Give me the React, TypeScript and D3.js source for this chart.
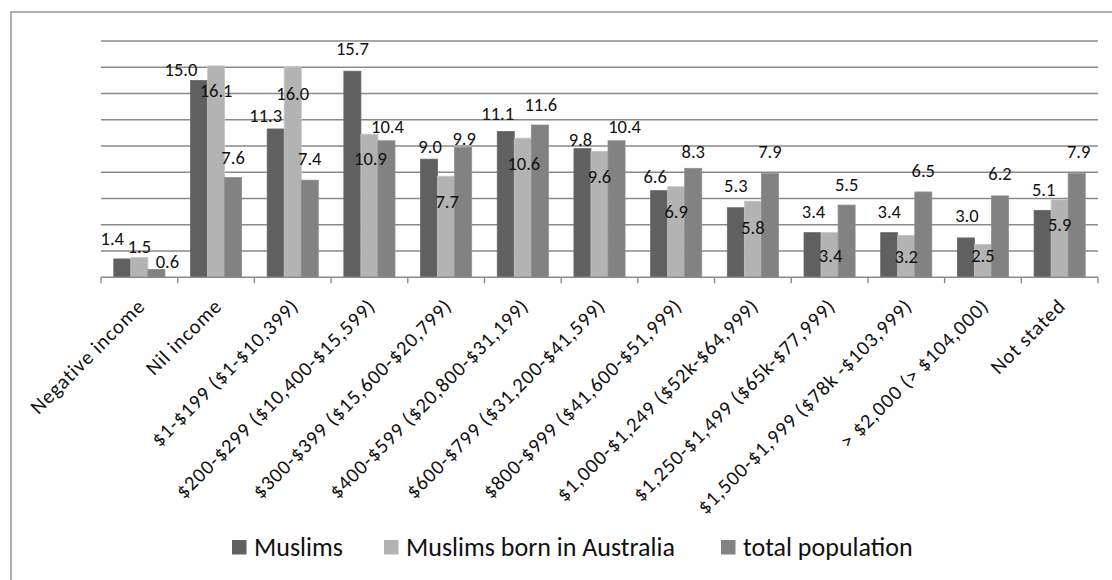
import React from "react";
import * as d3 from "d3";

const categories = [
  "Negative income",
  "Nil income",
  "$1-$199 ($1-$10,399)",
  "$200-$299 ($10,400-$15,599)",
  "$300-$399 ($15,600-$20,799)",
  "$400-$599 ($20,800-$31,199)",
  "$600-$799 ($31,200-$41,599)",
  "$800-$999 ($41,600-$51,999)",
  "$1,000-$1,249 ($52k-$64,999)",
  "$1,250-$1,499 ($65k-$77,999)",
  "$1,500-$1,999 ($78k -$103,999)",
  "> $2,000 (> $104,000)",
  "Not stated",
];

const seriesNames = ["Muslims", "Muslims born in Australia", "total population"];

const muslims = [1.4, 15.0, 11.3, 15.7, 9.0, 11.1, 9.8, 6.6, 5.3, 3.4, 3.4, 3.0, 5.1];
const muslimsBornAU = [1.5, 16.1, 16.0, 10.9, 7.7, 10.6, 9.6, 6.9, 5.8, 3.4, 3.2, 2.5, 5.9];
const totalPopulation = [0.6, 7.6, 7.4, 10.4, 9.9, 11.6, 10.4, 8.3, 7.9, 5.5, 6.5, 6.2, 7.9];

const yTicks = [0, 2, 4, 6, 8, 10, 12, 14, 16, 18];

// label placement offsets (px) relative to bar centre / bar top, per series
const labelDx = [
  [-10, -18, -10, 0, 1, -8, -2, -4, 0, 1, 0, 1, 1],
  [0, 0, 0, 1, 1, 1, 0, 0, 0, 1, 0, 0, 0],
  [11, 0, 0, 1, 1, 1, 8, 0, 0, 0, 0, 0, 2],
];
const labelDy = [
  [-20, -11, -13, -23, -13, -18, -9, -14, -22, -21, -21, -22, -21],
  [-11, 25, 26, 24, 25, 25, 25, 25, 26, 23, 21, 11, 25],
  [-8, -20, -22, -14, -9, -21, -14, -17, -22, -21, -21, -22, -22],
];

const colors = ["#606060", "#b3b3b3", "#828282"];
const legendX = [232, 384, 721];

const W = 1112;
const H = 580;
const plot = { left: 101, right: 1098, top: 41, bottom: 277.3 };
const FONT = "Calibri, Carlito, Lato, sans-serif";

export default function App() {
  const data = [muslims, muslimsBornAU, totalPopulation];
  const x0 = d3
    .scaleBand<number>()
    .domain(d3.range(categories.length))
    .range([plot.left, plot.right])
    .paddingInner(0)
    .paddingOuter(0);
  const band = x0.bandwidth();
  const barW = band / 4.5;
  const x1 = d3
    .scaleBand<number>()
    .domain([0, 1, 2])
    .range([0.75 * barW, 0.75 * barW + 3 * barW]);
  const y = d3.scaleLinear().domain([0, 18]).range([plot.bottom, plot.top]);

  const boundaries = d3.range(categories.length + 1).map((i) => plot.left + i * band);

  return (
    <svg
      width={W}
      height={H}
      style={{ position: "absolute", left: 0, top: 0, background: "#fff" }}
      fontFamily={FONT}
    >
      <rect x={0} y={0} width={W} height={H} fill="#fff" />
      <rect x={11} y={12} width={1200} height={700} fill="none" stroke="#9c9c9c" strokeWidth={1.6} />
      {/* gridlines */}
      {yTicks.slice(1).map((t) => (
        <line key={t} x1={plot.left} x2={plot.right} y1={y(t)} y2={y(t)} stroke="#8a8a8a" strokeWidth={1.4} />
      ))}
      {/* bars */}
      {data.map((vals, s) =>
        vals.map((v, i) => (
          <rect
            key={`b${s}-${i}`}
            x={(x0(i) as number) + (x1(s) as number)}
            y={y(v)}
            width={x1.bandwidth()}
            height={y(0) - y(v)}
            fill={colors[s]}
            stroke={d3.color(colors[s])!.brighter(0.25).formatHex()}
            strokeWidth={0.8}
          />
        ))
      )}
      {/* axis line */}
      <line x1={plot.left} x2={plot.right} y1={y(0)} y2={y(0)} stroke="#8a8a8a" strokeWidth={1.4} />
      {boundaries.map((bx, i) => (
        <line key={`t${i}`} x1={bx} x2={bx} y1={y(0)} y2={y(0) + 6} stroke="#8a8a8a" strokeWidth={1.4} />
      ))}
      {/* data labels */}
      {data.map((vals, s) =>
        vals.map((v, i) => (
          <text
            key={`l${s}-${i}`}
            x={(x0(i) as number) + (x1(s) as number) + x1.bandwidth() / 2 + labelDx[s][i]}
            y={y(v) + labelDy[s][i]}
            textAnchor="middle"
            dominantBaseline="central"
            fontSize={18.5}
            fill="#111"
          >
            {d3.format(".1f")(v)}
          </text>
        ))
      )}
      {/* category labels */}
      {categories.map((c, i) => (
        <text
          key={`c${i}`}
          transform={`translate(${(x0(i) as number) + band / 2 + 7},${y(0) + 30}) rotate(-45)`}
          textAnchor="end"
          fontSize={20.5}
          letterSpacing={0.9}
          fill="#111"
        >
          {c}
        </text>
      ))}
      {/* legend */}
      {seriesNames.map((n, s) => (
        <g key={`lg${s}`} transform={`translate(${legendX[s]},540)`}>
          <rect x={0} y={0} width={14.5} height={14.5} fill={colors[s]} />
          <text x={22} y={15.5} fontSize={26} fill="#111">
            {n}
          </text>
        </g>
      ))}
    </svg>
  );
}
